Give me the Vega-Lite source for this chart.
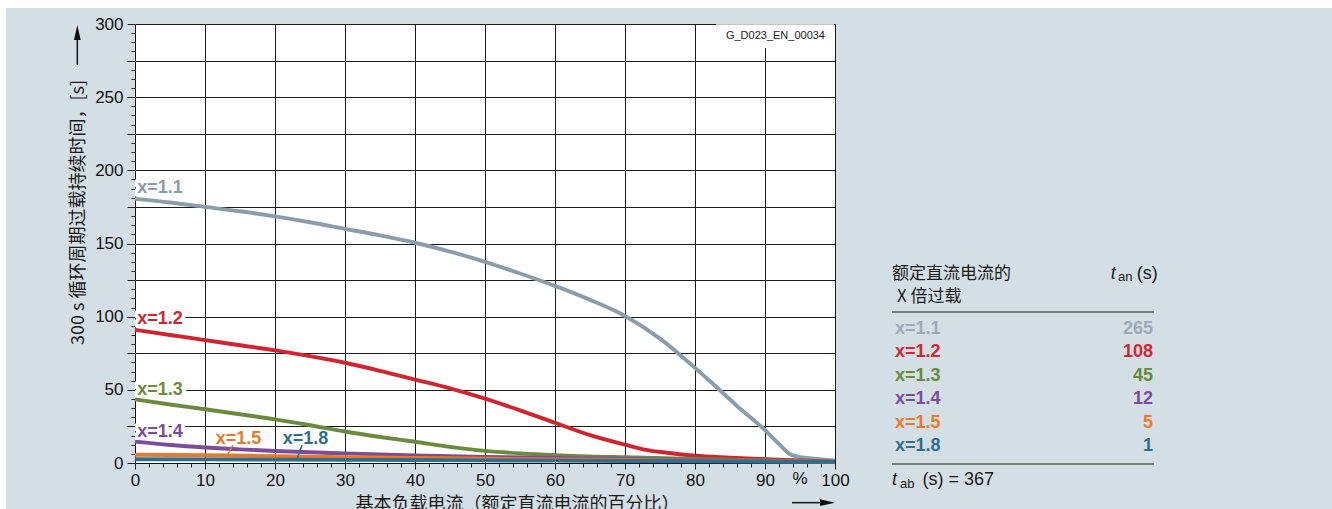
{
  "$schema": "https://vega.github.io/schema/vega-lite/v6.json",
  "width": 700,
  "height": 439,
  "autosize": {"type": "none"},
  "padding": {"left": 135, "top": 24, "right": 497, "bottom": 46},
  "background": "#d4dfe5",
  "config": {
    "view": {"fill": "white", "stroke": "#111111", "strokeWidth": 1},
    "font": "Liberation Sans"
  },
  "datasets": {
    "curves": [
      {"series": "x=1.1", "load": 0, "time": 180.5}, {"series": "x=1.1", "load": 5, "time": 178}, {"series": "x=1.1", "load": 10, "time": 175}, {"series": "x=1.1", "load": 15, "time": 172}, {"series": "x=1.1", "load": 20, "time": 168.5}, {"series": "x=1.1", "load": 25, "time": 164.5}, {"series": "x=1.1", "load": 30, "time": 160}, {"series": "x=1.1", "load": 35, "time": 155.5}, {"series": "x=1.1", "load": 40, "time": 150.5}, {"series": "x=1.1", "load": 45, "time": 144.5}, {"series": "x=1.1", "load": 50, "time": 137.5}, {"series": "x=1.1", "load": 55, "time": 129.5}, {"series": "x=1.1", "load": 60, "time": 121}, {"series": "x=1.1", "load": 65, "time": 111.5}, {"series": "x=1.1", "load": 70, "time": 100.5}, {"series": "x=1.1", "load": 75, "time": 85}, {"series": "x=1.1", "load": 80, "time": 65}, {"series": "x=1.1", "load": 82, "time": 56.5}, {"series": "x=1.1", "load": 86, "time": 39}, {"series": "x=1.1", "load": 90, "time": 22.5}, {"series": "x=1.1", "load": 92, "time": 13}, {"series": "x=1.1", "load": 93.6, "time": 6}, {"series": "x=1.1", "load": 95, "time": 4}, {"series": "x=1.1", "load": 97, "time": 3}, {"series": "x=1.1", "load": 100, "time": 1.5},
      {"series": "x=1.2", "load": 0, "time": 91}, {"series": "x=1.2", "load": 5, "time": 87.5}, {"series": "x=1.2", "load": 10, "time": 84}, {"series": "x=1.2", "load": 15, "time": 80.5}, {"series": "x=1.2", "load": 20, "time": 77}, {"series": "x=1.2", "load": 25, "time": 73}, {"series": "x=1.2", "load": 30, "time": 68.5}, {"series": "x=1.2", "load": 35, "time": 63}, {"series": "x=1.2", "load": 40, "time": 57}, {"series": "x=1.2", "load": 45, "time": 51}, {"series": "x=1.2", "load": 50, "time": 44}, {"series": "x=1.2", "load": 55, "time": 36}, {"series": "x=1.2", "load": 60, "time": 27.5}, {"series": "x=1.2", "load": 65, "time": 19}, {"series": "x=1.2", "load": 70, "time": 12.5}, {"series": "x=1.2", "load": 73, "time": 9}, {"series": "x=1.2", "load": 76, "time": 7}, {"series": "x=1.2", "load": 80, "time": 5}, {"series": "x=1.2", "load": 85, "time": 3.7}, {"series": "x=1.2", "load": 90, "time": 2.6}, {"series": "x=1.2", "load": 95, "time": 1.8}, {"series": "x=1.2", "load": 100, "time": 0.9},
      {"series": "x=1.3", "load": 0, "time": 43.5}, {"series": "x=1.3", "load": 5, "time": 40}, {"series": "x=1.3", "load": 10, "time": 36.7}, {"series": "x=1.3", "load": 15, "time": 33.3}, {"series": "x=1.3", "load": 20, "time": 29.8}, {"series": "x=1.3", "load": 25, "time": 25.8}, {"series": "x=1.3", "load": 30, "time": 21.5}, {"series": "x=1.3", "load": 35, "time": 17.8}, {"series": "x=1.3", "load": 40, "time": 14.5}, {"series": "x=1.3", "load": 45, "time": 11}, {"series": "x=1.3", "load": 50, "time": 8.3}, {"series": "x=1.3", "load": 55, "time": 6.6}, {"series": "x=1.3", "load": 60, "time": 5.4}, {"series": "x=1.3", "load": 70, "time": 3.9}, {"series": "x=1.3", "load": 80, "time": 2.8}, {"series": "x=1.3", "load": 90, "time": 1.8}, {"series": "x=1.3", "load": 100, "time": 0.8},
      {"series": "x=1.4", "load": 0, "time": 14.6}, {"series": "x=1.4", "load": 5, "time": 12.3}, {"series": "x=1.4", "load": 10, "time": 10.6}, {"series": "x=1.4", "load": 15, "time": 9.3}, {"series": "x=1.4", "load": 20, "time": 8.2}, {"series": "x=1.4", "load": 25, "time": 7.3}, {"series": "x=1.4", "load": 30, "time": 6.6}, {"series": "x=1.4", "load": 40, "time": 5.2}, {"series": "x=1.4", "load": 50, "time": 4.2}, {"series": "x=1.4", "load": 60, "time": 3.4}, {"series": "x=1.4", "load": 70, "time": 2.7}, {"series": "x=1.4", "load": 80, "time": 2}, {"series": "x=1.4", "load": 90, "time": 1.4}, {"series": "x=1.4", "load": 100, "time": 0.8},
      {"series": "x=1.5", "load": 0, "time": 5.6}, {"series": "x=1.5", "load": 10, "time": 5.3}, {"series": "x=1.5", "load": 20, "time": 4.7}, {"series": "x=1.5", "load": 30, "time": 4}, {"series": "x=1.5", "load": 40, "time": 3.4}, {"series": "x=1.5", "load": 50, "time": 2.9}, {"series": "x=1.5", "load": 60, "time": 2.4}, {"series": "x=1.5", "load": 70, "time": 2}, {"series": "x=1.5", "load": 80, "time": 1.6}, {"series": "x=1.5", "load": 90, "time": 1.2}, {"series": "x=1.5", "load": 100, "time": 0.8},
      {"series": "x=1.8", "load": 0, "time": 2.6}, {"series": "x=1.8", "load": 20, "time": 2.3}, {"series": "x=1.8", "load": 40, "time": 2}, {"series": "x=1.8", "load": 60, "time": 1.6}, {"series": "x=1.8", "load": 80, "time": 1.2}, {"series": "x=1.8", "load": 100, "time": 0.8}
    ],
    "labels": [
      {"series": "x=1.1", "load": 3.57, "time": 187.9},
      {"series": "x=1.2", "load": 3.57, "time": 98.4},
      {"series": "x=1.3", "load": 3.57, "time": 49.9},
      {"series": "x=1.4", "load": 3.57, "time": 21.2},
      {"series": "x=1.5", "load": 14.79, "time": 16.4},
      {"series": "x=1.8", "load": 24.36, "time": 16.4}
    ],
    "leaders": [
      {"series": "x=1.5", "load": 14.0, "time": 12.3, "load2": 13.3, "time2": 6.2},
      {"series": "x=1.8", "load": 23.86, "time": 12.3, "load2": 23.14, "time2": 2.6}
    ],
    "table": [
      {"series": "x=1.1", "rank": 1, "tan": 265},
      {"series": "x=1.2", "rank": 2, "tan": 108},
      {"series": "x=1.3", "rank": 3, "tan": 45},
      {"series": "x=1.4", "rank": 4, "tan": 12},
      {"series": "x=1.5", "rank": 5, "tan": 5},
      {"series": "x=1.8", "rank": 6, "tan": 1}
    ]
  },
  "layer": [
    {
      "data": {"values": [{}]},
      "layer": [
        {
          "mark": {"type": "rect", "color": "white"},
          "encoding": {
            "x": {"datum": -19.29, "axis": null}, "x2": {"datum": 171},
            "y": {"datum": 316.4, "axis": null}, "y2": {"datum": 310.9}
          }
        },
        {
          "mark": {"type": "rect", "color": "white"},
          "encoding": {
            "x": {"datum": -19.29, "axis": null}, "x2": {"datum": -18.43},
            "y": {"datum": 316.4, "axis": null}, "y2": {"datum": -31.44}
          }
        },
        {
          "mark": {"type": "rect", "color": "white"},
          "encoding": {
            "x": {"datum": 83, "axis": null}, "x2": {"datum": 99.85},
            "y": {"datum": 283.6, "axis": null}, "y2": {"datum": 299.8}
          }
        },
        {
          "data": {"name": "curves"},
          "mark": {"type": "point", "opacity": 0},
          "encoding": {
            "x": {
              "field": "load", "type": "quantitative",
              "scale": {"domain": [0, 100], "nice": false, "zero": false},
              "axis": {
                "orient": "bottom",
                "values": [0,2,4,6,8,10,12,14,16,18,20,22,24,26,28,30,32,34,36,38,40,42,44,46,48,50,52,54,56,58,60,62,64,66,68,70,72,74,76,78,80,82,84,86,88,90,92,94,96,98,100],
                "title": null, "labels": false, "grid": false, "domain": false,
                "tickSize": 4, "tickColor": "#222222", "tickWidth": 1
              }
            },
            "y": {
              "field": "time", "type": "quantitative",
              "scale": {"domain": [0, 300], "nice": false, "zero": false},
              "axis": {
                "orient": "left",
                "values": [0,6.25,12.5,18.75,25,31.25,37.5,43.75,50,56.25,62.5,68.75,75,81.25,87.5,93.75,100,106.25,112.5,118.75,125,131.25,137.5,143.75,150,156.25,162.5,168.75,175,181.25,187.5,193.75,200,206.25,212.5,218.75,225,231.25,237.5,243.75,250,256.25,262.5,268.75,275,281.25,287.5,293.75,300],
                "title": null, "labels": false, "grid": false, "domain": false,
                "tickSize": 4, "tickColor": "#222222", "tickWidth": 1
              }
            }
          }
        },
        {
          "data": {"name": "labels"},
          "mark": {"type": "text", "fontSize": 18, "fontWeight": "bold", "align": "center", "baseline": "middle", "color": "white", "stroke": "white", "strokeWidth": 8, "strokeJoin": "round", "clip": true},
          "encoding": {
            "x": {"field": "load", "type": "quantitative", "axis": null},
            "y": {"field": "time", "type": "quantitative", "axis": null},
            "text": {"field": "series"}
          }
        },
        {
          "data": {"name": "curves"},
          "mark": {"type": "line", "strokeWidth": 3.9, "interpolate": "monotone"},
          "encoding": {
            "x": {
              "field": "load", "type": "quantitative",
              "scale": {"domain": [0, 100], "nice": false, "zero": false},
              "axis": {
                "orient": "bottom",
                "values": [0,10,20,30,40,50,60,70,80,90,100],
                "title": "基本负载电流（额定直流电流的百分比）",
                "titleFont": "Noto Sans CJK SC", "titleFontSize": 18, "titleFontWeight": "normal", "titleColor": "#1a1a1a",
                "titleX": 382, "titleY": 32, "titleAlign": "center", "titleBaseline": "top",
                "labelFontSize": 17, "labelColor": "#111111", "labelFlush": false, "labelOverlap": false, "labelPadding": 3,
                "tickSize": 6, "tickColor": "#222222", "tickWidth": 1,
                "grid": true, "gridColor": "#1a1a1a", "gridWidth": 1,
                "domainColor": "#111111"
              }
            },
            "y": {
              "field": "time", "type": "quantitative",
              "scale": {"domain": [0, 300], "nice": false, "zero": false},
              "axis": {
                "orient": "left",
                "values": [0,25,50,75,100,125,150,175,200,225,250,275,300],
                "title": "300 s 循环周期过载持续时间，[s]",
                "titleFont": "Noto Sans CJK SC", "titleFontSize": 18, "titleFontWeight": "normal", "titleColor": "#1a1a1a",
                "titleX": -57, "titleY": 188, "titleAngle": 270, "titleAlign": "center", "titleBaseline": "middle",
                "labelExpr": "datum.value % 50 === 0 ? '' + datum.value : ''",
                "labelFontSize": 17, "labelColor": "#111111", "labelFlush": false, "labelOverlap": false, "labelPadding": 4,
                "tickSize": 8, "tickColor": "#222222", "tickWidth": 1,
                "grid": true, "gridColor": "#1a1a1a", "gridWidth": 1,
                "domainColor": "#111111"
              }
            },
            "color": {
              "field": "series", "type": "nominal", "legend": null,
              "scale": {"domain": ["x=1.1", "x=1.2", "x=1.3", "x=1.4", "x=1.5", "x=1.8"], "range": ["#8a9dab", "#d3232e", "#6a8b3d", "#7c4c9b", "#e8792b", "#2f6e8d"]}
            }
          }
        },
        {
          "data": {"name": "labels"},
          "mark": {"type": "text", "fontSize": 18, "fontWeight": "bold", "align": "center", "baseline": "middle"},
          "encoding": {
            "x": {"field": "load", "type": "quantitative", "axis": null},
            "y": {"field": "time", "type": "quantitative", "axis": null},
            "text": {"field": "series"},
            "color": {"field": "series", "type": "nominal", "legend": null}
          }
        },
        {
          "data": {"name": "leaders"},
          "mark": {"type": "rule", "strokeWidth": 1.5},
          "encoding": {
            "x": {"field": "load", "type": "quantitative", "axis": null},
            "y": {"field": "time", "type": "quantitative", "axis": null},
            "x2": {"field": "load2"},
            "y2": {"field": "time2"},
            "color": {"field": "series", "type": "nominal", "legend": null}
          }
        },
        {
          "mark": {"type": "text", "text": "G_D023_EN_00034", "fontSize": 11, "align": "right", "baseline": "middle", "color": "#222222"},
          "encoding": {"x": {"datum": 98.57, "axis": null}, "y": {"datum": 292.0, "axis": null}}
        },
        {
          "mark": {"type": "text", "text": "%", "fontSize": 17, "align": "center", "baseline": "middle", "color": "#111111"},
          "encoding": {"x": {"datum": 95, "axis": null}, "y": {"datum": -10.9, "axis": null}}
        },
        {
          "mark": {"type": "rule", "strokeWidth": 1.5, "color": "#111111"},
          "encoding": {"x": {"datum": -8.24, "axis": null}, "y": {"datum": 272, "axis": null}, "y2": {"datum": 290}}
        },
        {
          "mark": {"type": "point", "shape": "M0,-1L0.45,1L-0.45,1Z", "size": 225, "filled": true, "color": "#111111", "opacity": 1},
          "encoding": {"x": {"datum": -8.24, "axis": null}, "y": {"datum": 294.2, "axis": null}}
        },
        {
          "mark": {"type": "rule", "strokeWidth": 1.5, "color": "#111111"},
          "encoding": {"x": {"datum": 93.86, "axis": null}, "x2": {"datum": 98}, "y": {"datum": -27.1, "axis": null}}
        },
        {
          "mark": {"type": "point", "shape": "M1,0L-1,0.45L-1,-0.45Z", "size": 225, "filled": true, "color": "#111111", "opacity": 1},
          "encoding": {"x": {"datum": 98.93, "axis": null}, "y": {"datum": -27.1, "axis": null}}
        },
        {
          "mark": {"type": "text", "text": "额定直流电流的", "font": "Noto Sans CJK SC", "fontSize": 17, "align": "left", "baseline": "middle", "color": "#1a1a1a"},
          "encoding": {"x": {"datum": 108.14, "axis": null}, "y": {"datum": 129.2, "axis": null}}
        },
        {
          "mark": {"type": "text", "text": "X 倍过载", "font": "Noto Sans CJK SC", "fontSize": 17, "align": "left", "baseline": "middle", "color": "#1a1a1a"},
          "encoding": {"x": {"datum": 108.86, "axis": null}, "y": {"datum": 113.4, "axis": null}}
        },
        {
          "mark": {"type": "text", "text": "t", "fontSize": 18, "fontStyle": "italic", "align": "left", "baseline": "middle", "color": "#1a1a1a"},
          "encoding": {"x": {"datum": 139.4, "axis": null}, "y": {"datum": 129.2, "axis": null}}
        },
        {
          "mark": {"type": "text", "text": "an", "fontSize": 13, "align": "left", "baseline": "middle", "color": "#1a1a1a"},
          "encoding": {"x": {"datum": 140.43, "axis": null}, "y": {"datum": 127.3, "axis": null}}
        },
        {
          "mark": {"type": "text", "text": "(s)", "fontSize": 18, "align": "left", "baseline": "middle", "color": "#1a1a1a"},
          "encoding": {"x": {"datum": 143.1, "axis": null}, "y": {"datum": 129.2, "axis": null}}
        },
        {
          "mark": {"type": "rule", "strokeWidth": 1.2, "color": "#222222"},
          "encoding": {"x": {"datum": 108.14, "axis": null}, "x2": {"datum": 145.57}, "y": {"datum": 103.2, "axis": null}}
        },
        {
          "mark": {"type": "rule", "strokeWidth": 1.2, "color": "#222222"},
          "encoding": {"x": {"datum": 108.14, "axis": null}, "x2": {"datum": 145.57}, "y": {"datum": -0.68, "axis": null}}
        },
        {
          "mark": {"type": "text", "text": "t", "fontSize": 18, "fontStyle": "italic", "align": "left", "baseline": "middle", "color": "#1a1a1a"},
          "encoding": {"x": {"datum": 108.14, "axis": null}, "y": {"datum": -11.6, "axis": null}}
        },
        {
          "mark": {"type": "text", "text": "ab", "fontSize": 13, "align": "left", "baseline": "middle", "color": "#1a1a1a"},
          "encoding": {"x": {"datum": 109.3, "axis": null}, "y": {"datum": -14.35, "axis": null}}
        },
        {
          "mark": {"type": "text", "text": "(s) = 367", "fontSize": 18, "align": "left", "baseline": "middle", "color": "#1a1a1a"},
          "encoding": {"x": {"datum": 112.5, "axis": null}, "y": {"datum": -11.6, "axis": null}}
        }
      ],
      "resolve": {"axis": {"x": "independent", "y": "independent"}}
    },
    {
      "data": {"name": "table"},
      "layer": [
        {
          "mark": {"type": "text", "fontSize": 18, "fontWeight": "bold", "align": "left", "baseline": "middle"},
          "encoding": {
            "x": {"datum": 108.57, "axis": null},
            "y": {"field": "rank", "type": "quantitative", "axis": null, "scale": {"domain": [-12.03, 6.73], "reverse": true, "nice": false, "zero": false}},
            "text": {"field": "series"},
            "color": {"field": "series", "type": "nominal", "legend": null, "scale": {"domain": ["x=1.1", "x=1.2", "x=1.3", "x=1.4", "x=1.5", "x=1.8"], "range": ["#9aabb8", "#d42731", "#6a8a3c", "#7d4b9b", "#ea7b2b", "#2f6e8e"]}}
          }
        },
        {
          "mark": {"type": "text", "fontSize": 18, "fontWeight": "bold", "align": "right", "baseline": "middle"},
          "encoding": {
            "x": {"datum": 145.43, "axis": null},
            "y": {"field": "rank", "type": "quantitative", "axis": null},
            "text": {"field": "tan"},
            "color": {"field": "series", "type": "nominal", "legend": null}
          }
        }
      ]
    }
  ],
  "resolve": {"scale": {"y": "independent", "color": "independent"}}
}
